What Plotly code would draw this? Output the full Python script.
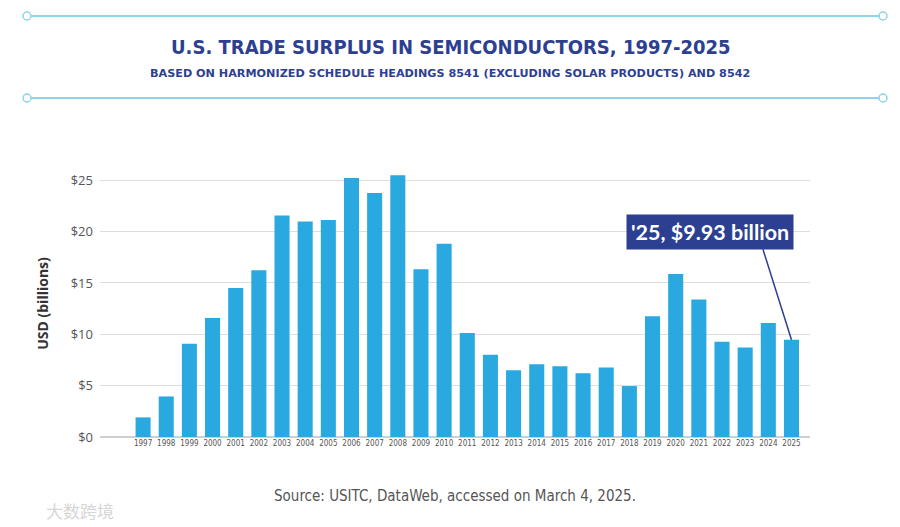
import plotly.graph_objects as go

# Data (USD billions)
years = list(range(1997, 2026))
surplus = [1.91, 3.95, 9.09, 11.58, 14.52, 16.24, 21.57, 20.99, 21.12, 25.23,
           23.77, 25.49, 16.33, 18.82, 10.12, 8.02, 6.50, 7.08, 6.89, 6.21,
           6.77, 4.96, 11.77, 15.88, 13.39, 9.27, 8.72, 11.09, 9.47]
yTicks = [0, 5, 10, 15, 20, 25]
yTickText = ["$" + str(v) for v in yTicks]

titleText = "U.S. TRADE SURPLUS IN SEMICONDUCTORS, 1997-2025"
subtitleText = "BASED ON HARMONIZED SCHEDULE HEADINGS 8541 (EXCLUDING SOLAR PRODUCTS) AND 8542"
calloutText = "'25, $9.93 billion"
sourceText = "Source: USITC, DataWeb, accessed on March 4, 2025."

navy = "#2d3f91"
barBlue = "#2aa9e0"
lineBlue = "#8fd3ec"
narrow = "Liberation Sans Narrow, DejaVu Sans Condensed, Roboto, sans-serif"

# Plot area on screen: x 100..810, y 170..437 (page has an 8px body margin)
def px(x):
    return (x - 100) / 710

def py(y):
    return (437 - y) / 267

fig = go.Figure()
fig.add_trace(go.Bar(
    x=years,
    y=surplus,
    marker=dict(color=barBlue, line=dict(width=0)),
    width=0.65,
    hoverinfo="x+y"
))

# Decorative rules above and below the title
shapes = []
for yy in [16, 98]:
    shapes.append(dict(type="line", xref="paper", yref="paper",
                       x0=px(31), x1=px(879), y0=py(yy), y1=py(yy),
                       line=dict(color=lineBlue, width=2)))
    for cx in [27, 883]:
        shapes.append(dict(type="circle", xref="paper", yref="paper",
                           x0=px(cx - 4), x1=px(cx + 4),
                           y0=py(yy + 4), y1=py(yy - 4),
                           line=dict(color=lineBlue, width=1.5),
                           fillcolor="white"))

annotations = [
    dict(text="<b>" + titleText + "</b>", xref="paper", yref="paper",
         x=px(451), y=py(47), xanchor="center", yanchor="middle", showarrow=False,
         font=dict(family=narrow, size=20, color=navy)),
    dict(text="<b>" + subtitleText + "</b>", xref="paper", yref="paper",
         x=px(450), y=py(73), xanchor="center", yanchor="middle", showarrow=False,
         font=dict(family="DejaVu Sans, sans-serif", size=11.2, color=navy)),
    dict(text=sourceText, xref="paper", yref="paper",
         x=px(455), y=py(496), xanchor="center", yanchor="middle", showarrow=False,
         font=dict(family=narrow, size=15, color="#555555")),
    dict(text="大数跨境", xref="paper", yref="paper",
         x=px(44), y=py(510), xanchor="left", yanchor="middle", showarrow=False,
         font=dict(family="Noto Sans CJK SC", size=17, color="#d6d6d6")),
    # callout line to the 2025 bar
    dict(text="", x=years[-1], y=surplus[-1], xref="x", yref="y",
         showarrow=True, arrowhead=0, arrowwidth=1.5, arrowcolor=navy,
         ax=-29, ay=-92),
    # callout box
    dict(text="<b>" + calloutText + "</b>", x=2021.5, y=20.0, xref="x", yref="y",
         showarrow=False, bgcolor=navy, borderpad=4,
         font=dict(family="Lato, Open Sans, sans-serif", size=21.5, color="white")),
]

fig.update_layout(
    width=900,
    height=527,
    margin=dict(l=92, r=98, t=162, b=98),
    paper_bgcolor="white",
    plot_bgcolor="white",
    showlegend=False,
    bargap=0.35,
    shapes=shapes,
    annotations=annotations,
    xaxis=dict(
        range=[1995.14, 2025.8],
        tickmode="array",
        tickvals=years,
        ticktext=[str(y) for y in years],
        tickfont=dict(family=narrow, size=8, color="#555555"),
        showgrid=False,
        showline=False,
        zeroline=False,
        ticks=""
    ),
    yaxis=dict(
        range=[0, 26],
        tickmode="array",
        tickvals=yTicks,
        ticktext=yTickText,
        tickfont=dict(family="Open Sans, sans-serif", size=13, color="#555555"),
        gridcolor="#dedede",
        gridwidth=1.2,
        zeroline=True,
        zerolinecolor="#cfcfcf",
        zerolinewidth=1.5,
        ticklabelstandoff=6,
        title=dict(text="<b>USD (billions)</b>", standoff=18,
                   font=dict(family="Open Sans, sans-serif", size=14, color="#333333"))
    )
)

fig.write_html("out.html")
